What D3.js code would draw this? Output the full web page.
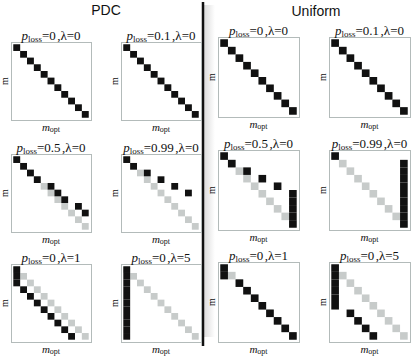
<!DOCTYPE html>
<html>
<head>
<meta charset="utf-8">
<script src="https://cdn.jsdelivr.net/npm/d3@7"></script>
<style>
  body { margin: 0; background: #fff; }
  .box { fill: none; stroke: #b3bbba; stroke-width: 1; }
  .serif { font-family: "Liberation Serif", "DejaVu Serif", serif; fill: #111; }
  .serif tspan { fill: #111; }
  .sans { font-family: "Liberation Sans", Arial, sans-serif; }
</style>
</head>
<body>
<div id="container"></div>
<script>
// panel parameters (same order in both groups)
var pLoss = ["0", "0.1", "0.5", "0.99", "0", "0"];
var lambda = ["0", "0", "0", "0", "1", "5"];

// number of levels of m / m_opt
var pdcLevels = 11;
var uniLevels = 10;

// chosen cells [m_opt, m] drawn black; the optimum (m = m_opt) is drawn grey
var pdcChosen = [
	[[0,0],[1,1],[2,2],[3,3],[4,4],[5,5],[6,6],[7,7],[8,8],[9,9],[10,10]],
	[[0,0],[1,1],[2,2],[3,3],[4,4],[5,5],[6,6],[7,7],[8,8],[9,9],[10,10]],
	[[0,0],[1,1],[2,2],[3,3],[5,4],[6,5],[7,6],[9,7],[10,8]],
	[[0,0],[1,1],[3,2],[5,3],[7,4],[9,5]],
	[[0,0],[0,1],[0,2],[1,3],[2,4],[3,5],[4,6],[5,7],[6,8],[7,9],[8,10]],
	[[0,0],[0,1],[0,2],[0,3],[0,4],[0,5],[0,6],[0,7],[0,8],[0,9],[0,10]]
];

var uniChosen = [
	[[0,0],[1,1],[2,2],[3,3],[4,4],[5,5],[6,6],[7,7],[8,8],[9,9]],
	[[0,0],[1,1],[2,2],[3,3],[4,4],[5,5],[6,6],[7,7],[8,8],[9,9]],
	[[0,0],[1,1],[3,2],[5,3],[7,4],[9,5],[9,6],[9,7],[9,8],[9,9]],
	[[0,0],[9,1],[9,2],[9,3],[9,4],[9,5],[9,6],[9,7],[9,8],[9,9]],
	[[0,0],[0,1],[2,2],[3,3],[4,4],[5,5],[6,6],[7,7],[8,8],[9,9]],
	[[0,0],[0,1],[0,2],[0,3],[0,4],[0,5],[2,6],[3,7],[4,8],[5,9]]
];

var groupNames = ["PDC", "Uniform"];

function load() {

	var width = 415, height = 357;

	var svg = d3.select("#container").append("svg")
		.attr("width", width)
		.attr("height", height);

	// layout of the two groups of 2x3 panels
	var groups = [
		{ name: groupNames[0], levels: pdcLevels, chosen: pdcChosen,
		  cols: [11, 121], rows: [42, 154, 264], w: 80, h: 78, titleX: 106, titleY: 15 },
		{ name: groupNames[1], levels: uniLevels, chosen: uniChosen,
		  cols: [218, 329], rows: [37, 150, 262], w: 81, h: 80, titleX: 316, titleY: 16 }
	];

	// soft shadow right of the divider
	var defs = svg.append("defs");
	var grad = defs.append("linearGradient")
		.attr("id", "shade")
		.attr("x1", "0").attr("x2", "1").attr("y1", "0").attr("y2", "0");
	grad.append("stop").attr("offset", "0").attr("stop-color", "#dcdcdc");
	grad.append("stop").attr("offset", "1").attr("stop-color", "#ffffff");

	svg.append("rect")
		.attr("x", 204).attr("y", 5)
		.attr("width", 11).attr("height", 332)
		.attr("fill", "url(#shade)");

	// divider
	svg.append("line")
		.attr("x1", 203).attr("x2", 203)
		.attr("y1", 2).attr("y2", 346)
		.attr("stroke", "#111")
		.attr("stroke-width", 2.5);

	groups.forEach(function(g) {

		// group title
		svg.append("text")
			.attr("class", "sans")
			.attr("x", g.titleX)
			.attr("y", g.titleY)
			.attr("text-anchor", "middle")
			.style("font-size", "14px")
			.attr("fill", "#111")
			.text(g.name);

		var idx = d3.range(g.levels);

		pLoss.forEach(function(p, k) {
			var x0 = g.cols[k % 2], y0 = g.rows[Math.floor(k / 2)];
			var inset = 2.3;

			// scales for m_opt (x) and m (y)
			var x = d3.scaleBand()
				.domain(idx)
				.range([x0 + inset, x0 + g.w - inset]);
			var y = d3.scaleBand()
				.domain(idx)
				.range([y0 + inset, y0 + g.h - inset]);

			var panel = svg.append("g");

			panel.append("rect")
				.attr("class", "box")
				.attr("x", x0 + 0.5).attr("y", y0 + 0.5)
				.attr("width", g.w).attr("height", g.h);

			// optimum m = m_opt (grey)
			panel.selectAll(".opt")
				.data(idx)
			  .enter().append("rect")
				.attr("class", "opt")
				.attr("x", function(d) { return x(d); })
				.attr("y", function(d) { return y(d); })
				.attr("width", x.bandwidth())
				.attr("height", y.bandwidth())
				.attr("fill", "#c7cbca");

			// chosen m (black)
			panel.selectAll(".cho")
				.data(g.chosen[k])
			  .enter().append("rect")
				.attr("class", "cho")
				.attr("x", function(d) { return x(d[0]); })
				.attr("y", function(d) { return y(d[1]); })
				.attr("width", x.bandwidth())
				.attr("height", y.bandwidth())
				.attr("fill", "#111");

			// panel title p_loss=..,λ=..
			var t = panel.append("text")
				.attr("class", "serif")
				.attr("x", x0 + g.w / 2)
				.attr("y", y0 - 2.5)
				.attr("text-anchor", "middle")
				.style("font-size", "13px");
			t.append("tspan").style("font-style", "italic").text("p");
			t.append("tspan").style("font-size", "9px").attr("dy", 2).text("loss");
			t.append("tspan").attr("dy", -2).text("=" + p);
			t.append("tspan").attr("dx", 1.5).text(",λ=" + lambda[k]);

			// axis labels
			var xl = panel.append("text")
				.attr("class", "serif")
				.attr("x", x0 + g.w / 2)
				.attr("y", y0 + g.h + 10.5)
				.attr("text-anchor", "middle")
				.style("font-size", "11px");
			xl.append("tspan").style("font-style", "italic").text("m");
			xl.append("tspan").style("font-size", "8px").attr("dy", 1.5).text("opt");

			panel.append("text")
				.attr("class", "serif")
				.attr("transform", "translate(" + (x0 - 3) + "," + (y0 + g.h / 2) + ") rotate(-90)")
				.attr("text-anchor", "middle")
				.style("font-size", "10px")
				.text("m");
		});
	});
}
load();
</script>
</body>
</html>
